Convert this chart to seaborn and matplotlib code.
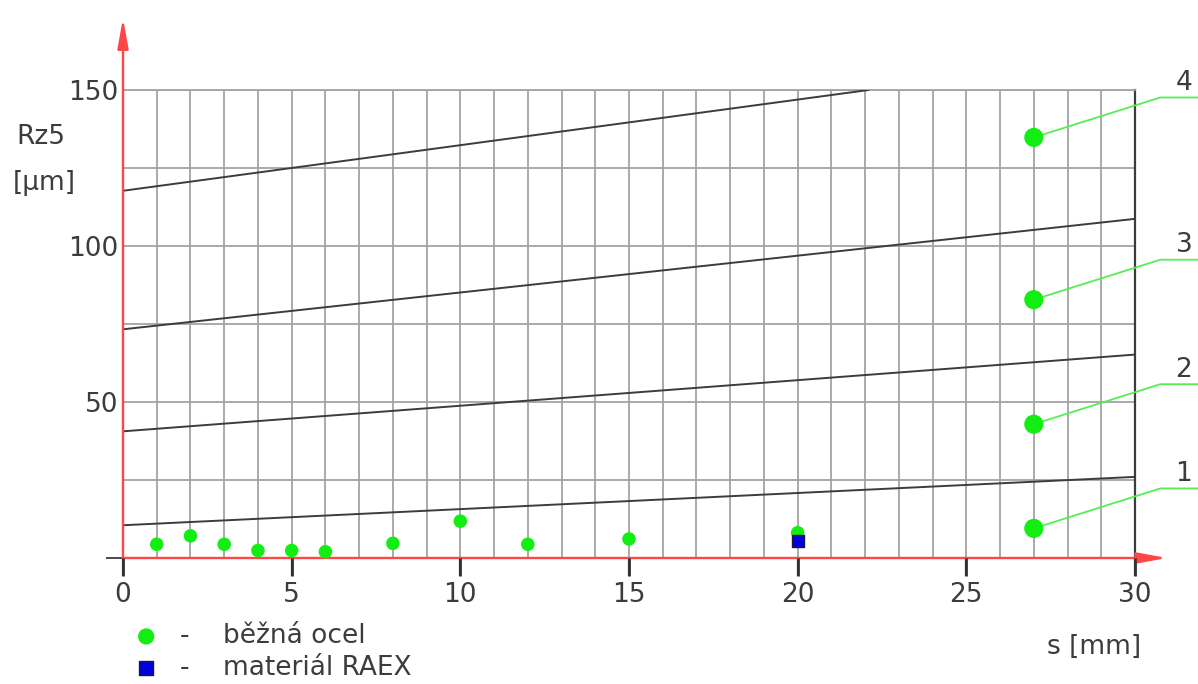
import matplotlib
matplotlib.use("Agg")
import matplotlib.pyplot as plt
import seaborn as sns

# measured samples: sheet thickness s [mm] vs. roughness Rz5 [um]
steel_s = [1, 2, 3, 4, 5, 6, 8, 10, 12, 15, 20]
steel_rz = [4.4, 7.1, 4.4, 2.4, 2.4, 2.0, 4.7, 11.8, 4.4, 6.1, 8.1]
raex_s = [20]
raex_rz = [5.4]

# limit lines 1-4 (start / end points)
limit_names = ["1", "2", "3", "4"]
limit_s0 = [0, 0, 0, 0]
limit_rz0 = [10.5, 40.6, 73.3, 117.7]
limit_s1 = [30, 30, 30, 22.1]
limit_rz1 = [26.0, 65.2, 108.7, 150.0]

# tag points that carry the line numbers
tag_s = [27, 27, 27, 27]
tag_rz = [9.5, 42.9, 82.8, 134.8]

x_ticks = [0, 5, 10, 15, 20, 25, 30]
y_ticks = [0, 25, 50, 75, 100, 125, 150]
y_tick_labels = ["", "", "50", "", "100", "", "150"]

sns.set_style("ticks")
plt.rcParams["font.family"] = ["DejaVu Sans"]

ink = "#3c3c3c"
grid_col = "#a4a4a4"
red = "#ff4646"
green = "#12ee12"
leader = "#55ee55"
fs = 19

fig = plt.figure(figsize=(11.98, 6.84), dpi=100)
ax = fig.add_axes([123 / 1198, 126 / 684, 1012 / 1198, 468 / 684])
ax.set_xlim(0, 30)
ax.set_ylim(0, 150)

# grid: every 1 mm vertically, every 25 um horizontally
ax.set_xticks(x_ticks)
ax.set_xticks(range(31), minor=True)
ax.set_yticks(y_ticks)
ax.set_yticklabels(y_tick_labels)
ax.yaxis.remove_overlapping_locs = False
ax.set_yticks([0], minor=True)
ax.grid(which="both", axis="x", color=grid_col, lw=1.3)
ax.grid(which="major", axis="y", color=grid_col, lw=1.3)

ax.tick_params(axis="x", which="major", bottom=True, direction="out",
               length=13, width=1.6, color="#333333", labelcolor=ink,
               labelsize=fs, pad=4)
ax.tick_params(axis="x", which="minor", length=0)
ax.tick_params(axis="y", which="major", left=True, length=0,
               labelcolor=ink, labelsize=fs, pad=3)
ax.tick_params(axis="y", which="minor", left=True, direction="out",
               length=12, width=1.3, color=ink)

for side in ["left", "bottom"]:
    ax.spines[side].set_visible(False)
ax.spines["top"].set_color(grid_col)
ax.spines["top"].set_linewidth(1.3)
ax.spines["right"].set_color(ink)
ax.spines["right"].set_linewidth(1.6)

# tick marks below the s axis
ax.vlines(x_ticks, -5.8, 0, color="#333333", lw=2.0, clip_on=False,
          zorder=10)

# limit lines
for i in range(len(limit_names)):
    sns.lineplot(x=[limit_s0[i], limit_s1[i]], y=[limit_rz0[i], limit_rz1[i]],
                 color=ink, lw=1.4, ax=ax, zorder=3)

# red axes with arrows
arrow = dict(arrowstyle="-|>,head_length=1.2,head_width=0.22", color=red,
             lw=1.7, mutation_scale=15, shrinkA=0, shrinkB=0)
ax.annotate("", xy=(0, 173), xytext=(0, 0), arrowprops=arrow,
            annotation_clip=False)
ax.annotate("", xy=(30.95, 0), xytext=(0, 0), arrowprops=arrow,
            annotation_clip=False)

# data points
sns.scatterplot(x=steel_s, y=steel_rz, color=green, s=95, edgecolor="none",
                ax=ax, zorder=4, clip_on=False)
steel_handle = ax.collections[-1]
sns.scatterplot(x=raex_s, y=raex_rz, color="#0000dd", marker="s", s=80,
                edgecolor="#1a1a40", linewidth=1.0, ax=ax, zorder=5,
                clip_on=False)
raex_handle = ax.collections[-1]

# tag points with leader lines and numbers
sns.scatterplot(x=tag_s, y=tag_rz, color=green, s=190, edgecolor="none",
                ax=ax, zorder=4)
for name, s, rz in zip(limit_names, tag_s, tag_rz):
    ax.plot([s, 30.75, 32.2], [rz, rz + 12.8, rz + 12.8], color=leader,
            lw=1.3, clip_on=False, zorder=3)
    ax.text(31.45, rz + 13.2, name, ha="center", va="bottom", color=ink,
            fontsize=fs, clip_on=False)

ax.set_axisbelow(True)

# axis captions
fig.text(16 / 1198, 1 - 137 / 684, "Rz5", ha="left", va="center",
         color=ink, fontsize=fs)
fig.text(13 / 1198, 1 - 183 / 684, "[\u00b5m]", ha="left", va="center",
         color=ink, fontsize=fs)
fig.text(1047 / 1198, 1 - 647 / 684, "s [mm]", ha="left", va="center",
         color=ink, fontsize=fs)

fig.legend([steel_handle, raex_handle],
           ["-    b\u011b\u017en\u00e1 ocel", "-    materi\u00e1l RAEX"],
           loc="center left", bbox_to_anchor=(133 / 1198, 1 - 652 / 684),
           frameon=False, fontsize=fs, handlelength=1.0, handletextpad=0.8,
           borderpad=0, borderaxespad=0, labelspacing=0.2, labelcolor=ink,
           markerscale=1.2)

fig.savefig("out.png", dpi=100)
